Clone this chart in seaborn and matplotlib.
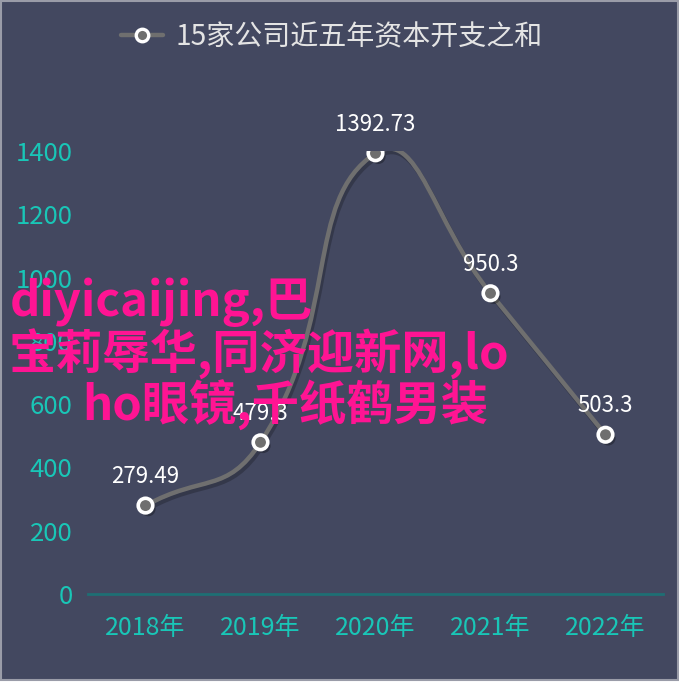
import numpy as np
import pandas as pd
import matplotlib
matplotlib.use("Agg")
import matplotlib.pyplot as plt
import seaborn as sns
from matplotlib.path import Path
from matplotlib.patches import PathPatch, Rectangle
from matplotlib.lines import Line2D
import matplotlib.patheffects as pe

# --- data ---
years = ["2018年", "2019年", "2020年", "2021年", "2022年"]
capex = [279.49, 479.3, 1392.73, 950.3, 503.3]
series_name = "15家公司近五年资本开支之和"
y_ticks = [0, 200, 400, 600, 800, 1000, 1200, 1400]
overlay_lines = ["diyicaijing,巴", "宝莉辱华,同济迎新网,lo", "ho眼镜,千纸鹤男装"]

BG = "#434860"
TEAL = "#19c6b7"
LINE = "#6f6f6f"
PINK = "#ff1493"
FONT = ["Noto Sans CJK SC", "DejaVu Sans"]

sns.set_theme(style="white")
plt.rcParams["font.family"] = FONT

W, H = 679, 693
fig = plt.figure(figsize=(W / 100, H / 100), dpi=100, facecolor="white")

# dark panel with a thin grey frame
fig.patches.append(Rectangle((0.5 / W, 1 - 680 / H), 677 / W, 679.5 / H,
                             transform=fig.transFigure, facecolor=BG,
                             edgecolor="#9a9ca8", linewidth=1.5, zorder=-10))

ax = fig.add_axes([88 / W, 1 - 594 / H, (663 - 88) / W, (594 - 151) / H])
ax.set_facecolor("none")
ax.patch.set_alpha(0)

df = pd.DataFrame({"year": years, "value": capex})
xs = np.arange(len(years), dtype=float)
ys = np.asarray(capex, dtype=float)

ax.set_xlim(-0.5, len(years) - 0.5)
ax.set_ylim(0, 1400)

# smooth curve through the points (cubic Bezier, control points in pixel space)
fig.canvas.draw()
pts = ax.transData.transform(np.column_stack([xs, ys]))
n = len(pts)
smooth = 0.5
cp_in, cp_out = [], []
for i in range(n):
    cur = pts[i]
    prv = pts[i - 1] if i > 0 else cur
    nxt = pts[i + 1] if i < n - 1 else cur
    v = (nxt - prv) * smooth
    d0 = np.hypot(*(cur - prv))
    d1 = np.hypot(*(cur - nxt))
    s = d0 + d1
    if s > 0:
        d0, d1 = d0 / s, d1 / s
    cp_in.append(cur - v * d0)
    cp_out.append(cur + v * d1)
verts = [pts[0]]
codes = [Path.MOVETO]
for i in range(n - 1):
    verts += [cp_out[i], cp_in[i + 1], pts[i + 1]]
    codes += [Path.CURVE4] * 3
inv = ax.transData.inverted()
verts_data = inv.transform(np.array(verts))
curve = PathPatch(Path(verts_data, codes), facecolor="none", edgecolor=LINE,
                  linewidth=3.2, zorder=3, capstyle="round",
                  path_effects=[pe.SimpleLineShadow(offset=(1.5, -2.5), shadow_color="black", alpha=0.22),
                                pe.Normal()])
ax.add_patch(curve)

# markers
sns.scatterplot(data=df, x=xs, y="value", ax=ax, s=110, color=LINE,
                edgecolor="white", linewidth=2.6, zorder=4, legend=False)
ax.collections[-1].set_path_effects([pe.SimplePatchShadow(offset=(2, -2.5), shadow_rgbFace="black", alpha=0.3),
                                     pe.Normal()])

# value labels
for x, y in zip(xs, ys):
    ax.annotate(f"{y:g}", (x, y), xytext=(0, 21), textcoords="offset points",
                ha="center", va="center", color="white", fontsize=16,
                family=FONT, zorder=5)

# axes styling
ax.set_xticks(xs)
ax.set_xticklabels(years)
ax.set_yticks(y_ticks)
ax.set_yticklabels([str(t) for t in y_ticks])
ax.tick_params(axis="x", length=0, pad=15, labelsize=18, labelcolor=TEAL)
ax.tick_params(axis="y", length=0, pad=11, labelsize=18.5, labelcolor=TEAL)
ax.set_xlabel("")
ax.set_ylabel("")
for side in ["top", "right", "left"]:
    ax.spines[side].set_visible(False)
ax.spines["bottom"].set_color("#1e6f74")
ax.spines["bottom"].set_linewidth(2)
ax.grid(False)

# legend
handle = Line2D([], [], color=LINE, linewidth=3.2, marker="o", markersize=9,
                markerfacecolor=LINE, markeredgecolor="white", markeredgewidth=2.4)
leg = fig.legend([handle], [series_name], loc="center", bbox_to_anchor=(332 / W, 1 - 37 / H),
                 frameon=False, handlelength=1.5, handletextpad=0.45,
                 labelcolor="#e4e4e4", prop={"family": FONT, "size": 20.2})

# overlaid caption
line_pos = [(10, 302), (8, 354), (82, 405)]
for txt, (px, py) in zip(overlay_lines, line_pos):
    fig.text(px / W, 1 - py / H, txt, color=PINK, fontsize=34, ha="left", va="center",
             family=FONT, fontweight="bold", zorder=10)

fig.savefig("out.png", dpi=100, facecolor="white")
